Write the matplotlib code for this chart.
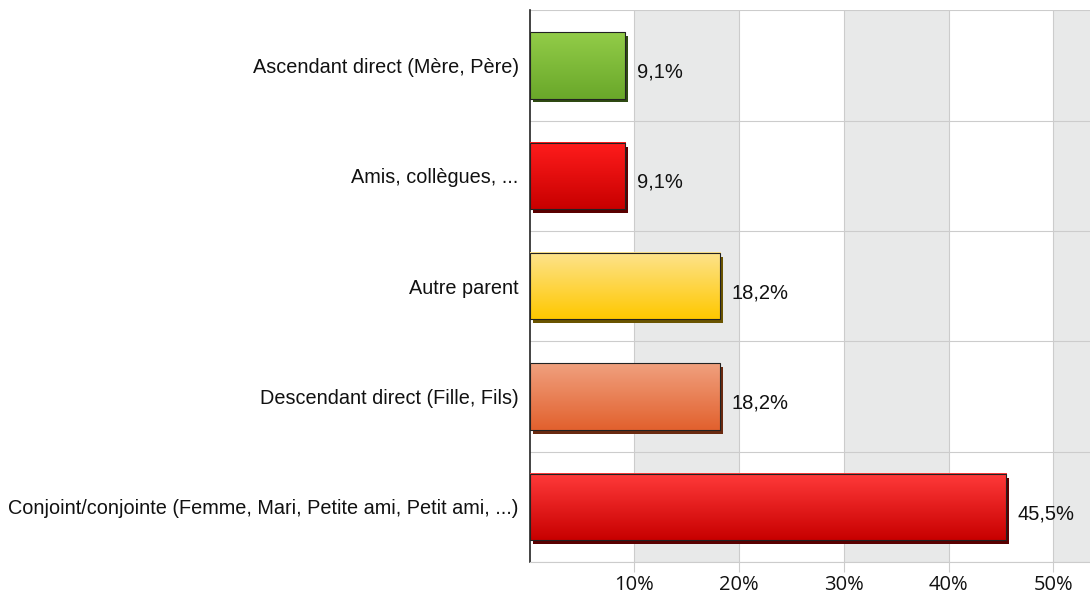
import matplotlib.pyplot as plt
import numpy as np
from matplotlib.colors import LinearSegmentedColormap
from matplotlib.patches import Rectangle

plt.rcParams['font.family'] = ['Liberation Sans', 'DejaVu Sans']

categories = ['Ascendant direct (Mère, Père)', 'Amis, collègues, ...', 'Autre parent',
              'Descendant direct (Fille, Fils)',
              'Conjoint/conjointe (Femme, Mari, Petite ami, Petit ami, ...)']
values = [9.1, 9.1, 18.2, 18.2, 45.5]
labels = ['9,1%', '9,1%', '18,2%', '18,2%', '45,5%']
# (top colour, bottom colour, shadow colour)
colors = [('#92cc48', '#6aa82a', '#2f4a12'),
          ('#ff1c1c', '#c80000', '#5a0000'),
          ('#fde38c', '#ffc800', '#6a5400'),
          ('#f0a07e', '#e2612e', '#6a2a10'),
          ('#ff3a3a', '#c80000', '#5a0000')]
ticks = [10, 20, 30, 40, 50]

fig = plt.figure(figsize=(10.9, 6), dpi=100)
ax = fig.add_axes([0.486, 0.063, 0.514, 0.92])
xmax = 53.5
n = len(categories)

# alternating background bands
for k in range(0, 6):
    if k % 2 == 1:
        ax.axvspan(k * 10, min((k + 1) * 10, xmax), color='#e8e9e9', zorder=0, lw=0)
for t in ticks:
    ax.axvline(t, color='#cccccc', lw=0.8, zorder=0.5)
for b in np.arange(-0.5, n, 1.0):
    ax.axhline(b, color='#cccccc', lw=0.8, zorder=0.5)

h = 0.6
grad = np.linspace(0, 1, 64).reshape(-1, 1)
dx = 0.3
dy = 0.035
for i, (v, c) in enumerate(zip(values, colors)):
    top, bot, sh = c
    ax.add_patch(Rectangle((dx, i - h / 2 + dy), v, h, facecolor=sh, edgecolor='none', zorder=2))
    cmap = LinearSegmentedColormap.from_list('g%d' % i, [top, bot])
    ax.imshow(grad, cmap=cmap, aspect='auto', extent=[0, v, i + h / 2, i - h / 2],
              zorder=3, interpolation='bilinear')
    ax.add_patch(Rectangle((0, i - h / 2), v, h, facecolor='none', edgecolor='#222222',
                           lw=0.8, zorder=4))
    ax.text(v + 1.1, i + 0.06, labels[i], va='center', ha='left', fontsize=14.5, color='#111111')

ax.set_xlim(0, xmax)
ax.set_ylim(n - 0.5, -0.5)
ax.set_yticks(range(n))
ax.set_yticklabels(categories, fontsize=14.3, color='#111111')
ax.set_xticks(ticks)
ax.set_xticklabels(['%d%%' % t for t in ticks], fontsize=14.5, color='#111111',
                   family=['Open Sans', 'DejaVu Sans'])
ax.tick_params(axis='y', length=0, pad=8)
ax.tick_params(axis='x', length=7, color='#cccccc', pad=2)

for s in ['top', 'right']:
    ax.spines[s].set_visible(False)
ax.spines['left'].set_color('#222222')
ax.spines['left'].set_linewidth(1.2)
ax.spines['bottom'].set_color('#cccccc')

fig.savefig('out.png', dpi=100)
